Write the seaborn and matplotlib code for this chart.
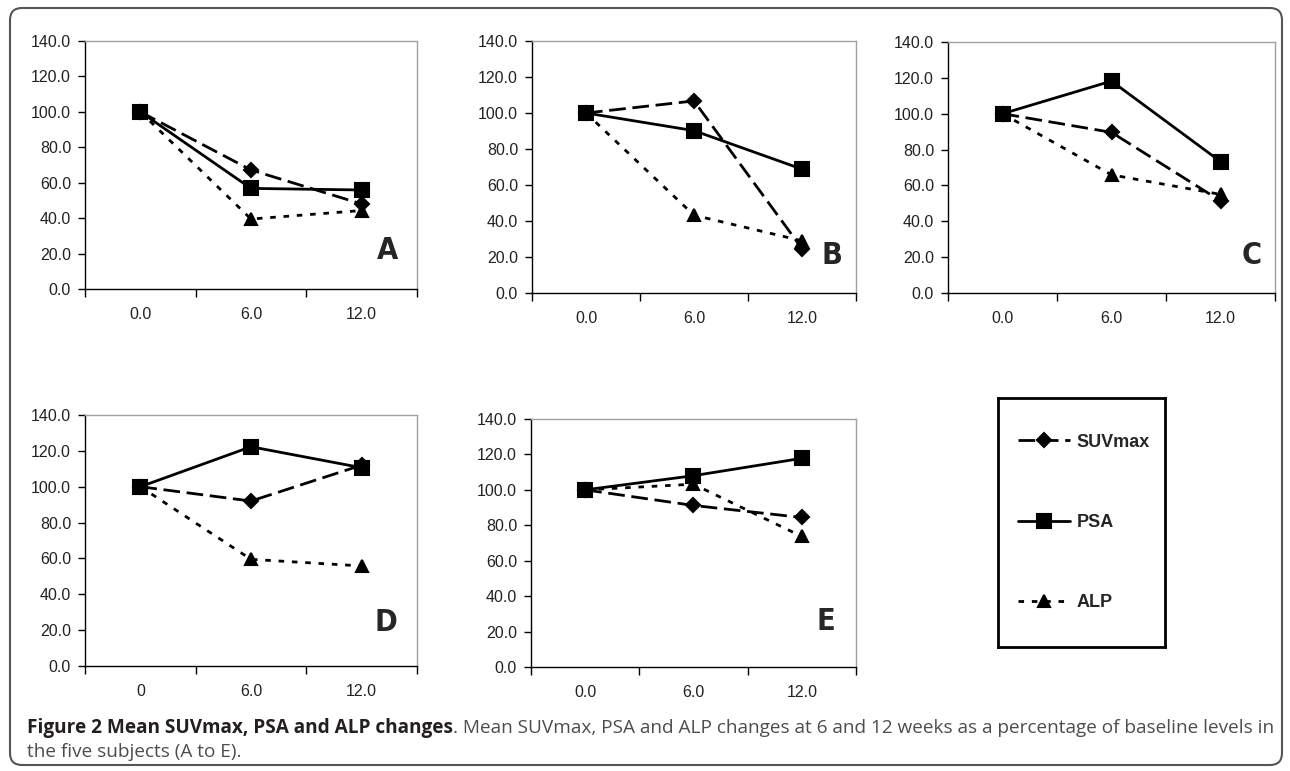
import numpy as np
import pandas as pd
import matplotlib.pyplot as plt
import seaborn as sns
from matplotlib.patches import FancyBboxPatch

sns.set_style('white')
plt.rcParams['font.family'] = ['Liberation Sans', 'DejaVu Sans']

# %% Data: percent of baseline at 0, 6 and 12 weeks

panel_names = ['A', 'B', 'C', 'D', 'E']
weeks = ['0.0', '6.0', '12.0']
weeks_d = ['0', '6.0', '12.0']

suv_a = [100, 67.2, 48.0]
psa_a = [100, 56.8, 55.9]
alp_a = [100, 39.5, 44.3]

suv_b = [100, 106.7, 24.7]
psa_b = [100, 90.2, 68.8]
alp_b = [100, 43.2, 29.0]

suv_c = [100, 89.6, 51.4]
psa_c = [100, 118.2, 73.3]
alp_c = [100, 65.9, 55.0]

suv_d = [100, 92.0, 112.0]
psa_d = [100, 122.3, 110.6]
alp_d = [100, 59.5, 55.8]

suv_e = [100, 91.2, 84.4]
psa_e = [100, 108.0, 117.8]
alp_e = [100, 103.2, 73.7]

# %% Layout

W, H = 1290, 771
fig = plt.figure(figsize=(W / 100, H / 100), dpi=100)

# axes boxes in pixels: left, right, top, bottom
boxes = [(85, 417, 41, 289), (532, 856, 41, 293), (948, 1275, 42, 293),
         (85, 417, 415, 666), (531, 856, 419, 667)]
letter_pos = [(0.91, 0.157), (0.926, 0.15), (0.93, 0.15), (0.907, 0.175), (0.908, 0.185)]

panel_data = [(weeks, suv_a, psa_a, alp_a), (weeks, suv_b, psa_b, alp_b),
              (weeks, suv_c, psa_c, alp_c), (weeks_d, suv_d, psa_d, alp_d),
              (weeks, suv_e, psa_e, alp_e)]

handles = {}

for i, (wk, suv, psa, alp) in enumerate(panel_data):
    l, r, t, b = boxes[i]
    ax = fig.add_axes([l / W, 1 - b / H, (r - l) / W, (b - t) / H])
    df = pd.DataFrame({'week': wk, 'SUVmax': suv, 'PSA': psa, 'ALP': alp})

    sns.pointplot(data=df, x='week', y='SUVmax', order=wk, color='black', errorbar=None,
                  markers='D', linestyles=(0, (6, 2.4)), markersize=7.5, linewidth=2, ax=ax)
    handles['SUVmax'] = ax.lines[-1]
    sns.pointplot(data=df, x='week', y='ALP', order=wk, color='black', errorbar=None,
                  markers='^', linestyles=(0, (2, 2.8)), markersize=9, linewidth=2, ax=ax)
    handles['ALP'] = ax.lines[-1]
    sns.pointplot(data=df, x='week', y='PSA', order=wk, color='black', errorbar=None,
                  markers='s', linestyles='-', markersize=9.5, linewidth=2, ax=ax)
    handles['PSA'] = ax.lines[-1]

    ax.set_xlim(-0.5, 2.5)
    ax.set_ylim(0, 140)
    ax.set_yticks(np.arange(0, 141, 20))
    ax.set_yticklabels(['%.1f' % v for v in np.arange(0, 141, 20)])
    ax.set_xticks([-0.5, 0.5, 1.5, 2.5])
    ax.set_xticklabels([])
    ax.set_xticks([0, 1, 2], minor=True)
    ax.set_xticklabels(wk, minor=True)
    ax.set_xlabel('')
    ax.set_ylabel('')

    ax.tick_params(axis='y', which='major', direction='out', length=5, width=1,
                   color='black', left=True, pad=5, labelsize=11.5, labelcolor='#222222')
    ax.tick_params(axis='x', which='major', direction='out', length=6, width=1,
                   color='black', bottom=True)
    ax.tick_params(axis='x', which='minor', length=0, pad=13, labelsize=11.5,
                   labelcolor='#222222')

    for side in ['left', 'bottom']:
        ax.spines[side].set_color('black')
        ax.spines[side].set_linewidth(1)
    for side in ['top', 'right']:
        ax.spines[side].set_color('#a0a0a0')
        ax.spines[side].set_linewidth(1)

    ax.text(letter_pos[i][0], letter_pos[i][1], panel_names[i], transform=ax.transAxes,
            ha='center', va='center', fontsize=22, fontweight='heavy', fontstretch='condensed',
            family=['Liberation Sans Narrow', 'DejaVu Sans Condensed', 'DejaVu Sans'])

# %% Legend box

lax = fig.add_axes([998 / W, 1 - 647 / H, 167 / W, 249 / H])
lax.set_xticks([])
lax.set_yticks([])
for side in lax.spines.values():
    side.set_color('black')
    side.set_linewidth(2)
lax.legend([handles['SUVmax'], handles['PSA'], handles['ALP']], ['SUVmax', 'PSA', 'ALP'],
           loc='center left', bbox_to_anchor=(0.12, 0.5), frameon=False, labelspacing=3.5,
           handlelength=2.9, handletextpad=0.35, borderpad=0, borderaxespad=0,
           prop=dict(weight='bold', size=13))

# %% Caption and outer frame

cap_size = 13.7
t1 = fig.text(27 / W, 1 - 733 / H, 'Figure 2 Mean SUVmax, PSA and ALP changes', fontweight='bold',
              family='Open Sans', fontsize=cap_size, color='#231f20', va='baseline')
renderer = fig.canvas.get_renderer()
bb = t1.get_window_extent(renderer)
fig.text(bb.x1 / W, 1 - 733 / H,
         '. Mean SUVmax, PSA and ALP changes at 6 and 12 weeks as a percentage of baseline levels in',
         family='Open Sans', fontsize=cap_size, color='#4d4d4d', va='baseline')
fig.text(27 / W, 1 - 757 / H, 'the five subjects (A to E).', family='Open Sans',
         fontsize=cap_size, color='#4d4d4d', va='baseline')

frame = FancyBboxPatch((0.10, 0.06), 12.72, 7.57, boxstyle='round,pad=0,rounding_size=0.12',
                       transform=fig.dpi_scale_trans, fill=False, edgecolor='#555555', lw=1.5)
fig.patches.append(frame)

fig.savefig('out.png', dpi=100)
